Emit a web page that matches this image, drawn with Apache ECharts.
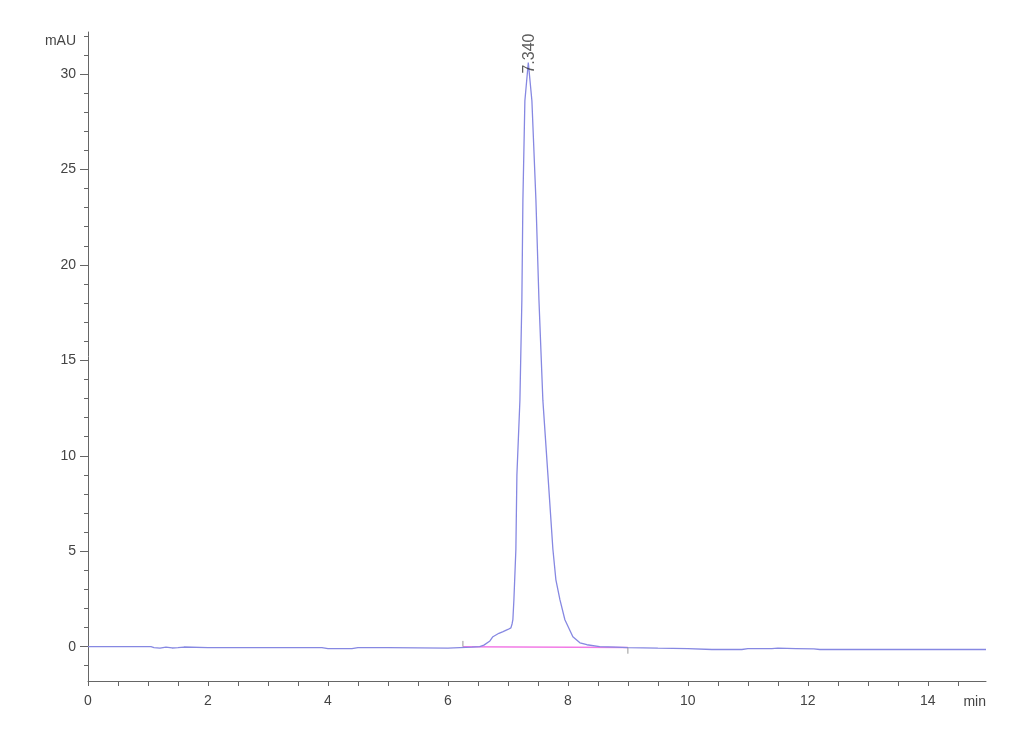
<!DOCTYPE html>
<html>
<head>
<meta charset="utf-8">
<script src="https://cdn.jsdelivr.net/npm/echarts@6/dist/echarts.min.js"></script>
<style>html,body{margin:0;padding:0;background:#fff;}#c{width:1030px;height:755px;}</style>
</head>
<body>
<div id="c"></div>
<script>
// Chromatogram trace: [time (min), signal (mAU)]
const trace = [
  [0.0,0.0],[0.5,0.0],[1.0,0.0],[1.02,-0.08],[1.05,0.0],[1.1,-0.05],[1.2,-0.08],[1.3,-0.02],
  [1.4,-0.07],[1.5,-0.05],[1.6,-0.02],[2.0,-0.05],[3.0,-0.05],[3.9,-0.05],[4.0,-0.1],[4.4,-0.1],
  [4.5,-0.05],[5.0,-0.05],[5.5,-0.06],[6.0,-0.08],[6.2,-0.05],[6.4,-0.03],[6.53,0.0],[6.6,0.08],
  [6.7,0.3],[6.75,0.52],[6.85,0.7],[6.92,0.79],[7.0,0.9],[7.05,0.98],[7.07,1.2],[7.083,1.41],
  [7.1,2.46],[7.133,5.1],[7.15,9.0],[7.2,12.9],[7.233,18.2],[7.25,23.4],[7.283,28.6],[7.34,30.6],
  [7.4,28.6],[7.467,23.4],[7.517,18.2],[7.583,12.9],[7.667,9.0],[7.75,5.1],[7.8,3.5],[7.867,2.46],
  [7.95,1.41],[8.083,0.52],[8.2,0.2],[8.317,0.1],[8.53,0.0],[8.8,-0.03],[9.0,-0.05],[9.5,-0.08],
  [10.0,-0.1],[10.4,-0.15],[10.9,-0.15],[11.0,-0.1],[11.4,-0.1],[11.5,-0.08],[11.8,-0.1],
  [12.1,-0.12],[12.2,-0.15],[13.0,-0.15],[14.0,-0.15],[14.97,-0.15]
];
// Integration baseline and its start/end markers
const integrationBaseline = [[6.25, 0.0], [9.0, -0.05]];
const startMarker = [[6.25, 0.0], [6.25, 0.3]];
const endMarker = [[9.0, -0.05], [9.0, -0.37]];
// Peak annotation
const peakTime = 7.34;
const peakHeight = 30.6;
// Axis ticks and labels
const xMin = 0, xMax = 14.97;
const yMin = -1.8, yMax = 32.2;
const xLabelValues = [0, 2, 4, 6, 8, 10, 12, 14];
const xTickValues = [];
for (let i = 0; i <= 29; i++) xTickValues.push(i * 0.5);
const yLabelValues = [0, 5, 10, 15, 20, 25, 30];
const yMinorTickValues = [];
for (let v = -1; v <= 32; v++) yMinorTickValues.push(v);

const FONT = "'Liberation Sans', Arial, sans-serif";
const FS = 14;
const axisColor = '#666';
const chart = echarts.init(document.getElementById('c'), null, {renderer: 'canvas'});
chart.setOption({
  animation: false,
  backgroundColor: '#fff',
  grid: {left: 88, right: 44, top: 32, bottom: 74, containLabel: false},
  xAxis: {
    type: 'value', min: xMin, max: xMax,
    name: 'min', nameLocation: 'end', nameGap: 0,
    nameTextStyle: {fontFamily: FONT, fontSize: FS, color: '#444', align: 'right', verticalAlign: 'top', padding: [14, 0, 0, 0]},
    axisLine: {show: true, onZero: false, lineStyle: {color: axisColor, width: 1}},
    axisTick: {show: true, customValues: xTickValues, length: 5, lineStyle: {color: axisColor}},
    axisLabel: {customValues: xLabelValues, fontFamily: FONT, fontSize: FS, color: '#444', margin: 13},
    splitLine: {show: false}
  },
  yAxis: [{
    type: 'value', min: yMin, max: yMax,
    name: 'mAU', nameLocation: 'end', nameGap: -9,
    nameTextStyle: {fontFamily: FONT, fontSize: FS, color: '#444', align: 'right', verticalAlign: 'middle', padding: [0, 12, 0, 0]},
    axisLine: {show: true, onZero: false, lineStyle: {color: axisColor, width: 1}},
    axisTick: {show: true, customValues: yLabelValues, length: 8, lineStyle: {color: axisColor}},
    axisLabel: {customValues: yLabelValues, fontFamily: FONT, fontSize: FS, color: '#444', margin: 12},
    splitLine: {show: false}
  }, {
    type: 'value', min: yMin, max: yMax, position: 'left',
    axisLine: {show: false},
    axisTick: {show: true, customValues: yMinorTickValues, length: 4, lineStyle: {color: axisColor}},
    axisLabel: {show: false},
    splitLine: {show: false}
  }],
  series: [
    {
      type: 'line', data: integrationBaseline, symbol: 'none', silent: true,
      lineStyle: {color: '#f27be6', width: 1.5}, z: 2
    },
    {
      type: 'line', data: trace, symbol: 'none', silent: true,
      lineStyle: {color: '#8688e2', width: 1.3}, z: 3
    },
    {
      type: 'line', data: startMarker, symbol: 'none', silent: true,
      lineStyle: {color: '#999', width: 1}, z: 4
    },
    {
      type: 'line', data: endMarker, symbol: 'none', silent: true,
      lineStyle: {color: '#999', width: 1}, z: 4
    },
    {
      type: 'scatter', data: [[peakTime, peakHeight]], symbolSize: 2,
      itemStyle: {color: 'rgba(0,0,0,0)'}, silent: true, z: 5,
      label: {
        show: true, position: 'inside', rotate: 90, align: 'left', verticalAlign: 'middle',
        offset: [-11, 1],
        formatter: function (p) { return p.value[0].toFixed(3); },
        fontFamily: FONT, fontSize: 16, color: '#333'
      }
    }
  ]
});
</script>
</body>
</html>
